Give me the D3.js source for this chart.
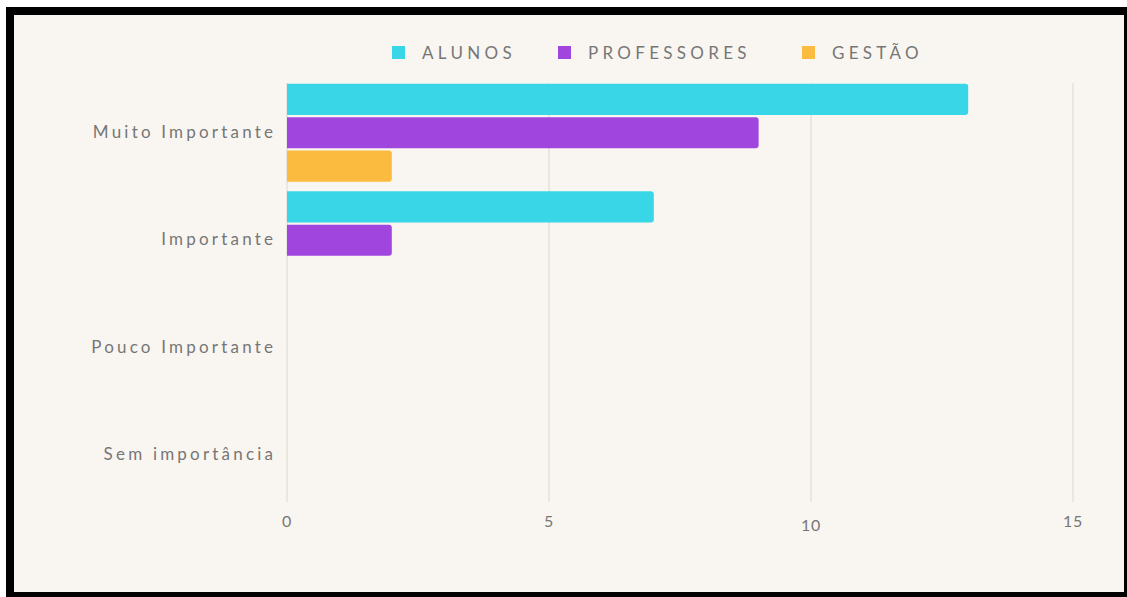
<!DOCTYPE html>
<html>
<head>
<meta charset="utf-8">
<script src="https://cdn.jsdelivr.net/npm/d3@7"></script>
<style>
  html, body { margin: 0; padding: 0; background: #ffffff; }
  svg { display: block; }
  text { font-family: "Lato", "Noto Sans", sans-serif; fill: #767676; }
</style>
</head>
<body>
<svg id="chart" width="1127" height="597"></svg>
<script>
// Categories (top to bottom)
const categories = ["Muito Importante", "Importante", "Pouco Importante", "Sem importância"];
// Series
const seriesNames = ["ALUNOS", "PROFESSORES", "GESTÃO"];
const seriesColors = ["#38d6e6", "#a046df", "#fbbb3e"];
const alunos      = [13, 7, 0, 0];
const professores = [9, 2, 0, 0];
const gestao      = [2, 0, 0, 0];
const xTicks = [0, 5, 10, 15];

const seriesValues = [alunos, professores, gestao];

const svg = d3.select("#chart");
const W = 1127, H = 597;

// Framed card
svg.append("rect").attr("x", 6).attr("y", 7).attr("width", W - 6).attr("height", H - 7).attr("fill", "#000");
svg.append("rect").attr("x", 14).attr("y", 15).attr("width", 1124 - 14).attr("height", 592 - 15).attr("fill", "#f9f6f1");

const x = d3.scaleLinear().domain([0, 15]).range([287, 1073]);
const y0 = d3.scaleBand().domain(categories).range([79, 509]).paddingInner(0.09).paddingOuter(0.045);
const y1 = d3.scaleBand().domain(seriesNames).range([0, y0.bandwidth()]).paddingInner(0.07).paddingOuter(0);

// Vertical gridlines
svg.append("g").selectAll("line").data(xTicks).join("line")
  .attr("x1", d => x(d)).attr("x2", d => x(d))
  .attr("y1", 83).attr("y2", 502)
  .attr("stroke", "#e2ddd8").attr("stroke-width", 1.3);

// X tick labels
svg.append("g").selectAll("text").data(xTicks).join("text")
  .attr("x", d => x(d))
  .attr("y", d => d === 10 ? 531 : 527)
  .attr("text-anchor", "middle")
  .attr("font-size", 16)
  .attr("letter-spacing", 0.8)
  .text(d => d);

// Category labels
const catSpacing = 3.2;
svg.append("g").selectAll("text").data(categories).join("text")
  .attr("x", 273 + catSpacing)
  .attr("y", d => y0(d) + y0.bandwidth() / 2 + 5)
  .attr("text-anchor", "end")
  .attr("font-size", 17)
  .attr("letter-spacing", catSpacing)
  .text(d => d);

// Bars with rounded right ends
function barPath(x0, x1, yt, h, r) {
  const w = x1 - x0;
  if (w <= 0) return "";
  r = Math.min(r, w / 2, h / 2);
  return `M${x0},${yt}H${x1 - r}Q${x1},${yt} ${x1},${yt + r}V${yt + h - r}Q${x1},${yt + h} ${x1 - r},${yt + h}H${x0}Z`;
}

const barData = [];
categories.forEach((c, ci) => {
  seriesNames.forEach((s, si) => {
    barData.push({ cat: c, series: s, value: seriesValues[si][ci], color: seriesColors[si] });
  });
});

svg.append("g").selectAll("path").data(barData.filter(d => d.value > 0)).join("path")
  .attr("d", d => barPath(x(0), x(d.value), y0(d.cat) + y1(d.series), y1.bandwidth(), 3))
  .attr("fill", d => d.color);

// Legend
const legendX = [392, 558, 802];
const legend = svg.append("g").selectAll("g").data(seriesNames).join("g")
  .attr("transform", (d, i) => `translate(${legendX[i]},0)`);
legend.append("rect")
  .attr("x", 0).attr("y", 46).attr("width", 13).attr("height", 13)
  .attr("fill", (d, i) => seriesColors[i]);
legend.append("text")
  .attr("x", 30).attr("y", 58.5)
  .attr("font-size", 17)
  .attr("letter-spacing", 4.3)
  .text(d => d);
</script>
</body>
</html>
